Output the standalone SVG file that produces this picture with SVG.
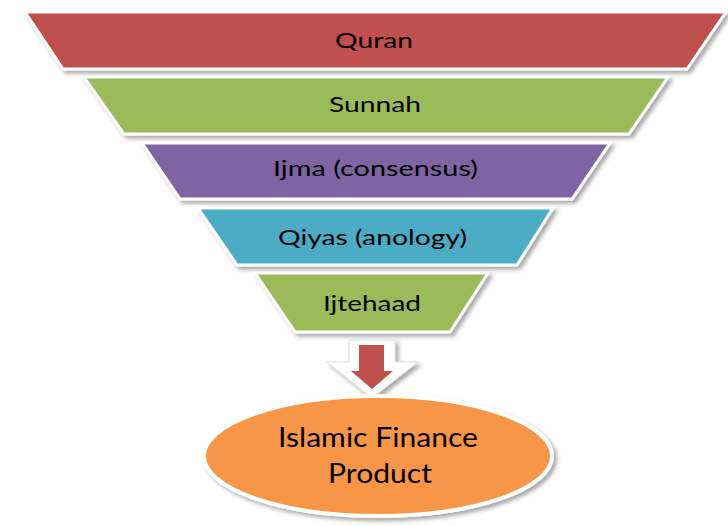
<svg xmlns="http://www.w3.org/2000/svg" width="728" height="526" viewBox="0 0 728 526">
<defs>
<filter id="sh" x="-10%" y="-20%" width="120%" height="140%">
<feDropShadow dx="3" dy="3" stdDeviation="2" flood-color="#000" flood-opacity="0.35"/>
</filter>
</defs>
<style>
.seg{stroke:#fff;stroke-width:3;stroke-linejoin:miter;filter:url(#sh)}
.t{font-family:Lato,"Open Sans","Liberation Sans",sans-serif;font-size:22px;fill:#000;text-anchor:middle}
.tb{font-size:27px}
</style>
<rect width="728" height="526" fill="#fff"/>
<g id="quran">
<polygon class="seg" fill="#C0504D" points="25,12 726,12 687,69 63,69"/>
<text class="t" x="374" y="48" textLength="78" lengthAdjust="spacingAndGlyphs">Quran</text>
</g>
<g id="sunnah">
<polygon class="seg" fill="#9BBB59" points="84,77 668,77 629,134 124,134"/>
<text class="t" x="375" y="112" textLength="92" lengthAdjust="spacingAndGlyphs">Sunnah</text>
</g>
<g id="ijma">
<polygon class="seg" fill="#8064A2" points="142,143 610,143 572,199 180,199"/>
<text class="t" x="375.5" y="176" textLength="205" lengthAdjust="spacingAndGlyphs">Ijma (consensus)</text>
</g>
<g id="qiyas">
<polygon class="seg" fill="#4BACC6" points="198,208 553,208 517,265 237,265"/>
<text class="t" x="372.5" y="245" textLength="189" lengthAdjust="spacingAndGlyphs">Qiyas (anology)</text>
</g>
<g id="ijtehaad">
<polygon class="seg" fill="#9BBB59" points="255,273 488,273 450,332 295,332"/>
<text class="t" x="372" y="311" textLength="98" lengthAdjust="spacingAndGlyphs">Ijtehaad</text>
</g>
<g id="connectors">
<polygon fill="#fff" stroke="#ddd" stroke-width="1" filter="url(#sh)" points="349,340 395,340 395,362 418,362 372,398 327,362 349,362"/>
<polygon fill="#C0504D" points="359,345 384,345 384,371 393,371 372,389 351,371 359,371"/>
</g>
<g id="product">
<ellipse cx="378" cy="456" rx="174" ry="60" fill="#F79646" stroke="#fff" stroke-width="4" filter="url(#sh)"/>
<text class="t tb" x="378" y="447" textLength="200" lengthAdjust="spacingAndGlyphs">Islamic Finance</text>
<text class="t tb" x="380" y="483" textLength="104" lengthAdjust="spacingAndGlyphs">Product</text>
</g>
</svg>
